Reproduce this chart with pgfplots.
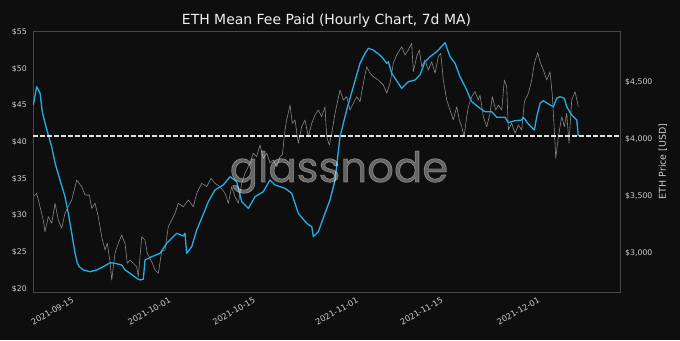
\documentclass[border=0pt]{standalone}
\usepackage{pgfplots}
\pgfplotsset{compat=1.18}
\usepackage{pgfplotstable}
\usepackage{fontspec}
\setmainfont{DejaVu Sans}
\newfontfamily\wmfont[FakeBold=1.6]{Poppins}
\definecolor{bgc}{RGB}{14,14,14}
\definecolor{feec}{RGB}{35,175,230}
\definecolor{pricec}{RGB}{135,135,135}
\definecolor{framec}{RGB}{72,72,72}
\definecolor{tickc}{RGB}{205,205,205}
\definecolor{titlec}{RGB}{240,240,240}
\definecolor{dashc}{RGB}{225,225,225}

\pgfplotstableread{
day fee
-5.90 45.07
-5.34 47.56
-4.79 46.70
-4.41 44.11
-3.97 42.62
-3.42 40.98
-2.86 39.39
-2.31 37.17
-1.49 34.85
-0.66 32.57
-0.12 30.35
0.45 27.63
0.99 24.90
1.37 23.54
1.70 23.04
2.36 22.59
3.47 22.36
4.58 22.59
5.67 23.04
6.78 23.58
7.60 23.50
8.71 23.27
9.26 22.59
10.08 22.14
11.19 21.46
11.74 21.23
12.28 21.32
12.56 23.95
13.67 24.40
15.04 24.86
16.15 26.23
17.80 27.59
18.89 27.22
19.17 27.59
19.45 24.86
20.28 25.76
21.11 28.04
22.48 30.76
23.02 31.89
24.13 33.49
25.50 34.17
26.61 35.30
27.72 34.62
28.55 31.89
29.64 30.99
30.74 32.57
32.12 33.26
33.22 34.85
34.05 34.17
35.70 33.72
36.81 33.04
37.90 30.31
39.29 28.95
40.12 28.49
40.38 27.13
41.21 27.81
42.31 30.31
43.14 32.13
43.97 34.85
44.79 40.75
45.90 44.39
46.99 47.56
48.10 50.75
48.93 52.11
49.47 52.79
50.30 52.56
51.69 51.65
52.51 50.75
52.78 50.97
53.34 49.39
54.99 47.34
56.08 48.24
57.19 48.47
58.02 49.16
58.84 50.97
59.67 51.65
60.78 52.33
62.15 53.56
62.98 51.65
63.80 50.75
64.63 48.92
65.74 47.11
66.28 45.98
66.56 45.52
67.93 44.62
68.76 44.16
69.87 44.16
70.69 43.39
72.07 43.39
72.61 42.66
73.72 42.93
74.83 43.02
75.09 43.39
75.92 42.48
76.91 41.66
77.31 43.47
77.85 45.30
78.40 45.65
79.50 45.07
80.05 44.84
80.61 45.98
81.16 46.20
81.87 45.98
82.26 44.84
83.09 43.71
83.92 43.02
84.18 40.84
}\feedata

\pgfplotstableread{
day price
-5.90 3494
-5.34 3524
-4.79 3406
-4.25 3290
-3.97 3187
-3.42 3319
-2.86 3261
-2.31 3436
-1.77 3290
-1.21 3217
-0.66 3348
-0.12 3406
0.45 3465
1.27 3640
2.10 3582
2.64 3509
3.36 3509
3.75 3392
4.30 3436
4.84 3319
5.40 3143
5.95 3027
6.33 3085
6.78 2924
7.06 2763
7.60 2998
8.15 3085
8.71 3158
9.26 3085
9.64 2910
10.08 2939
10.63 2910
11.19 2880
11.45 2792
12.02 3143
12.56 3114
12.94 2998
13.67 2924
14.21 2851
14.76 2822
15.32 3012
15.87 3027
16.41 3231
16.98 3290
17.52 3348
18.07 3436
18.89 3406
19.72 3465
20.55 3406
21.11 3524
21.93 3611
22.76 3582
23.47 3655
24.13 3611
24.96 3582
25.79 3524
26.33 3436
26.89 3582
27.44 3494
27.98 3436
28.55 3611
29.09 3699
29.92 3787
30.46 3875
31.02 3845
31.57 3947
32.12 3831
32.68 3875
33.22 3787
33.77 3816
34.33 3757
34.88 3845
35.26 3860
35.70 4079
35.98 4167
36.53 4298
36.91 4138
37.36 4167
37.90 3962
38.46 4108
39.01 4167
39.55 4020
40.12 4138
40.66 4210
41.21 4254
41.77 4196
42.31 4283
42.59 4020
43.02 3947
43.42 4050
43.97 4225
44.79 4430
45.34 4342
45.90 4371
46.45 4254
46.99 4313
47.55 4371
48.10 4327
48.64 4488
49.21 4634
49.75 4576
50.30 4546
51.12 4517
51.95 4474
52.51 4401
53.06 4488
53.60 4664
54.16 4737
54.99 4809
55.54 4737
56.08 4781
56.64 4839
56.91 4590
57.47 4722
57.90 4781
58.30 4634
58.84 4693
59.39 4605
59.95 4678
60.50 4576
61.04 4722
61.44 4752
61.87 4517
62.43 4342
62.98 4254
63.52 4167
64.08 4283
64.51 4167
64.91 4108
65.29 4020
65.74 4196
66.00 4283
66.56 4371
67.11 4415
67.65 4342
67.93 4386
68.48 4196
69.04 4108
69.59 4225
69.97 4371
70.53 4254
70.96 4298
71.52 4254
71.95 4517
72.35 4459
72.61 4079
73.17 4138
73.72 4050
74.26 4123
74.83 4079
75.26 4327
75.92 4401
76.48 4517
76.91 4664
77.47 4757
77.85 4678
78.40 4605
78.96 4517
79.50 4590
79.88 4386
80.21 4079
80.45 3831
80.88 4020
81.44 4196
81.87 4108
82.26 4225
82.64 3962
83.09 4342
83.64 4415
84.18 4283
}\pricedata

\begin{document}
\begin{tikzpicture}[x=1bp,y=1bp]
\path[use as bounding box] (0,0) rectangle (680,340);
\fill[bgc] (0,0) rectangle (680,340);
\begin{axis}[
  at={(33bp,48bp)}, anchor=south west, scale only axis,
  width=587bp, height=261bp,
  xmin=-5.95, xmax=91.07, ymin=2658, ymax=4947,
  axis x line=none, axis y line*=right,
  y axis line style={draw=none},
  ytick={3000,3500,4000,4500},
  yticklabels={{\$3,000},{\$3,500},{\$4,000},{\$4,500}},
  major tick length=0pt,
  yticklabel style={font=\fontsize{7.8}{9}\selectfont, text=tickc, anchor=west, inner sep=0pt, xshift=5bp},
  ylabel={ETH Price [USD]},
  every axis y label/.style={at={(rel axis cs:1,0.5)}, xshift=43bp, rotate=90, anchor=center, font=\fontsize{9.5}{11}\selectfont, text=tickc},
]
\addplot[pricec, line width=0.6bp, line join=round] table[x=day,y=price] \pricedata;
\end{axis}
\begin{axis}[
  at={(33bp,48bp)}, anchor=south west, scale only axis,
  width=587bp, height=261bp,
  xmin=-5.95, xmax=91.07, ymin=19.59, ymax=55.15,
  axis line style={framec, line width=0.8bp},
  xtick={0,16,30,47,61,77},
  xticklabels={2021-09-15,2021-10-01,2021-10-15,2021-11-01,2021-11-15,2021-12-01},
  ytick={20,25,30,35,40,45,50,55},
  yticklabels={\$20,\$25,\$30,\$35,\$40,\$45,\$50,\$55},
  ytick pos=left, xtick pos=bottom,
  major tick length=0pt,
  tick label style={font=\fontsize{7.8}{9}\selectfont, text=tickc},
  xticklabel style={rotate=30, anchor=north east, inner sep=0pt, yshift=-5bp, font=\fontsize{8.2}{9}\selectfont},
  yticklabel style={anchor=east, inner sep=0pt, xshift=-6bp},
]
\addplot[feec, line width=1.3bp, line join=round] table[x=day,y=fee] \feedata;
\addplot[dashc, line width=1.2bp, dash pattern=on 4.5bp off 2.5bp] coordinates {(-5.95,40.85) (91.07,40.85)};
\end{axis}
\node[anchor=base, text=white, opacity=0.36, font=\wmfont\fontsize{42}{50}\selectfont] at (339,158) {glassnode};
\node[anchor=base, text=titlec, font=\fontsize{14}{16}\selectfont] at (326.5,316) {ETH Mean Fee Paid (Hourly Chart, 7d MA)};
\end{tikzpicture}
\end{document}
